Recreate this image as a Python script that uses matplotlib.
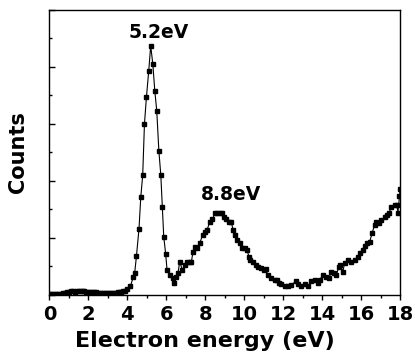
import matplotlib.pyplot as plt
from matplotlib.ticker import MultipleLocator

plt.rcParams['font.family'] = ['DejaVu Sans']
plt.rcParams['font.weight'] = 'bold'

# energy (eV) and counts (arb. units)
energy = [0.0, 0.1, 0.2, 0.3, 0.4, 0.5, 0.6, 0.7, 0.8, 0.9, 1.0, 1.1, 1.2, 1.3,
          1.4, 1.5, 1.6, 1.7, 1.8, 1.9, 2.0, 2.1, 2.2, 2.3, 2.4, 2.5, 2.6, 2.7,
          2.8, 2.9, 3.0, 3.1, 3.2, 3.3, 3.4, 3.5, 3.6, 3.7, 3.8, 3.9,
          3.96, 4.16, 4.3, 4.38, 4.47, 4.6, 4.69, 4.79, 4.88, 4.98, 5.1, 5.2,
          5.31, 5.41, 5.51, 5.62, 5.72, 5.8,
          5.87, 5.97, 6.04, 6.18, 6.32, 6.38, 6.49, 6.6, 6.69, 6.83, 6.95,
          7.07, 7.2, 7.29, 7.37, 7.46, 7.58, 7.72, 7.86, 7.97, 8.09, 8.23,
          8.37, 8.49, 8.6, 8.74, 8.88, 8.97, 9.09, 9.22, 9.34, 9.43, 9.51,
          9.63, 9.77, 9.91, 10.03, 10.14, 10.25, 10.32, 10.45, 10.59, 10.71,
          10.88, 11.0, 11.1, 11.22, 11.39, 11.56, 11.68, 11.79,
          11.9, 12.08, 12.25, 12.42, 12.64, 12.76, 12.93, 13.1, 13.27, 13.45,
          13.62, 13.78, 13.87, 14.04, 14.21, 14.35, 14.47, 14.59, 14.73,
          14.86, 14.93, 15.07, 15.15, 15.32, 15.5, 15.67, 15.84, 15.96,
          16.09, 16.18, 16.3, 16.44, 16.57, 16.69, 16.78, 16.91, 17.03,
          17.21, 17.32, 17.43, 17.55, 17.72, 17.84, 17.89, 17.97, 18.0]
counts = [0.02, 0.02, 0.03, 0.03, 0.03, 0.04, 0.04, 0.05, 0.06, 0.1, 0.1, 0.12,
          0.12, 0.1, 0.12, 0.13, 0.15, 0.13, 0.12, 0.1, 0.1, 0.1, 0.1, 0.09,
          0.09, 0.08, 0.08, 0.08, 0.07, 0.07, 0.07, 0.07, 0.08, 0.08, 0.08,
          0.09, 0.1, 0.1, 0.12, 0.15,
          0.2, 0.31, 0.61, 0.78, 1.37, 2.32, 3.42, 4.2, 6.0, 6.93, 7.86, 8.74,
          8.1, 7.16, 6.47, 5.05, 4.2, 3.09,
          2.04, 1.43, 0.87, 0.7, 0.58, 0.43, 0.64, 0.76, 1.16, 0.87, 1.05,
          1.16, 1.16, 1.16, 1.51, 1.69, 1.63, 1.81, 2.1, 2.21, 2.27, 2.56,
          2.65, 2.86, 2.88, 2.88, 2.88, 2.72, 2.68, 2.56, 2.56, 2.27, 2.1,
          1.92, 1.81, 1.63, 1.63, 1.57, 1.34, 1.22, 1.16, 1.05, 0.97,
          0.93, 0.87, 0.9, 0.7, 0.58, 0.52, 0.52, 0.41,
          0.38, 0.31, 0.31, 0.35, 0.47, 0.38, 0.31, 0.38, 0.31, 0.47,
          0.52, 0.41, 0.52, 0.7, 0.64, 0.58, 0.82, 0.78, 0.7,
          0.99, 1.05, 0.82, 1.13, 1.22, 1.16, 1.22, 1.32, 1.48,
          1.57, 1.71, 1.83, 1.86, 2.18, 2.45, 2.56, 2.53, 2.62,
          2.72, 2.8, 2.86, 3.09, 3.15, 3.15, 2.88, 3.46, 3.73]

peak_labels = ['5.2eV', '8.8eV']
peak_pos = [(5.6, 9.02), (9.34, 3.32)]

fig = plt.figure(figsize=(4.15, 3.54), dpi=100)
ax = fig.add_axes([0.119, 0.167, 0.845, 0.805])

ax.plot(energy, counts, '-', color='black', lw=0.8, marker='s', ms=3.5,
        mfc='black', mec='black')

for lab, (xx, yy) in zip(peak_labels, peak_pos):
    ax.text(xx, yy, lab, ha='center', va='baseline', fontsize=13.5,
            fontweight='bold')

ax.set_xlim(0, 18)
ax.set_ylim(0, 10)
ax.xaxis.set_major_locator(MultipleLocator(2))
ax.xaxis.set_minor_locator(MultipleLocator(1))
ax.yaxis.set_major_locator(MultipleLocator(2))
ax.yaxis.set_minor_locator(MultipleLocator(1))
ax.tick_params(axis='x', which='major', direction='out', length=3.5, width=1,
               labelsize=14, pad=4)
ax.tick_params(axis='x', which='minor', direction='out', length=2.5, width=1)
ax.tick_params(axis='y', which='major', direction='in', length=4, width=1,
               labelleft=False)
ax.tick_params(axis='y', which='minor', direction='in', length=2.5, width=1)
for s in ax.spines.values():
    s.set_linewidth(1)

ax.set_xlabel('Electron energy (eV)', fontsize=16, fontweight='bold')
ax.xaxis.set_label_coords(0.443, -0.128)
ax.set_ylabel('Counts', fontsize=15, fontweight='bold', labelpad=12)

fig.savefig('out.png', dpi=100)
